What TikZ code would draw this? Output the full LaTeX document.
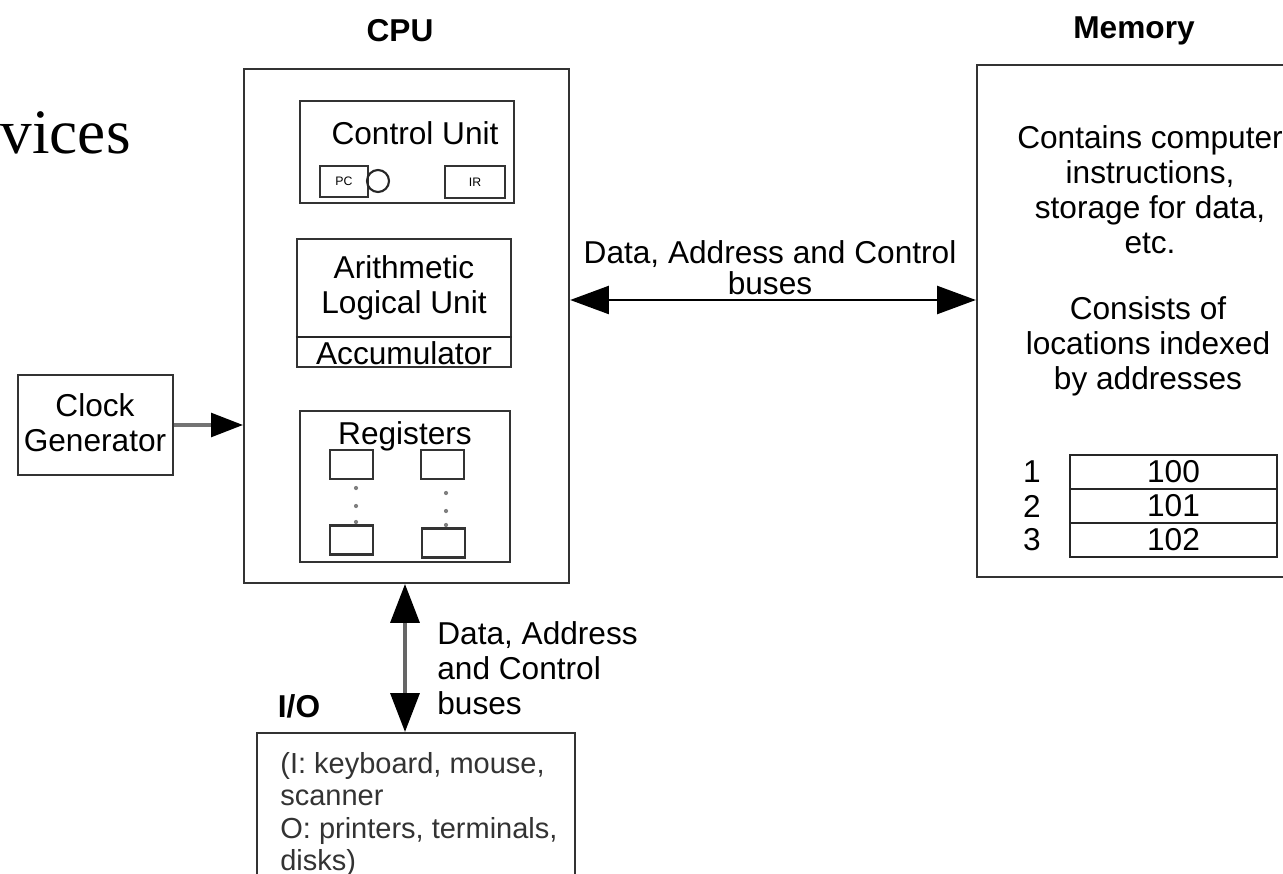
\documentclass[tikz,border=0pt]{standalone}
\usepackage{fontspec}
\setmainfont{Liberation Sans}
\newfontfamily\serifbig{Liberation Serif}
\usetikzlibrary{arrows.meta}
\tikzset{
    unit-box/.style = {draw=black!80, line width=1.4pt, rectangle, inner sep=0pt},
    unit-text/.style = {font=\fontsize{18}{20}\selectfont, align=center, inner sep=0pt},
    title-text/.style = {font=\fontsize{18}{20}\selectfont\bfseries, inner sep=0pt},
    tiny-box/.style = {draw=black!80, line width=1.2pt, rectangle, inner sep=0pt, font=\fontsize{7}{8}\selectfont},
    reg-box/.style = {draw=black!80, line width=1.2pt, rectangle, inner sep=0pt, minimum width=0.86cm, minimum height=0.58cm},
    row-box/.style = {draw=black!85, line width=1.2pt, rectangle, inner sep=0pt, minimum width=4.14cm, minimum height=0.68cm, font=\fontsize{18}{20}\selectfont},
    bus-arrow/.style = {{Triangle[length=22pt,width=16pt]}-{Triangle[length=22pt,width=16pt]}, line width=1pt},
    io-arrow/.style = {{Triangle[length=22pt,width=17pt,color=black,line width=0pt]}-{Triangle[length=22pt,width=17pt,color=black,line width=0pt]}, black!60, line width=2pt},
    clock-arrow/.style = {-{Triangle[length=18pt,width=14pt,color=black,line width=0pt]}, black!55, line width=2.2pt},
}

\begin{document}
\begin{tikzpicture}[x=0.02cm, y=-0.02cm]
\clip (0,0) rectangle (1283,874);
\useasboundingbox (0,0) rectangle (1283,874);
\fill[white] (0,0) rectangle (1283,874);

% titles
\node[title-text] (cputitle) at (400,31) {CPU};
\node[title-text] (memtitle) at (1134,31) {Memory};
\node[inner sep=0pt, anchor=east, font=\fontsize{36}{40}\serifbig] (devices) at (131,133) {vices};

% cpu and its parts
\node[unit-box, minimum width=6.5cm, minimum height=10.28cm] (cpu) at (406.5,326) {};
\node[unit-box, minimum width=4.28cm, minimum height=2.04cm] (cu) at (407,152) {};
\node[unit-text] (cutext) at (415,133) {Control Unit};
\node[tiny-box, minimum width=0.96cm, minimum height=0.62cm] (pc) at (344,181.5) {PC};
\draw[black!85, line width=1.2pt] (378,181) circle (0.22cm);
\node[tiny-box, minimum width=1.2cm, minimum height=0.64cm] (ir) at (475,182) {IR};

\node[unit-box, minimum width=4.28cm, minimum height=2.56cm] (alu) at (404,303) {};
\draw[black!85, line width=1.4pt] (alu.west |- 0,337) -- (alu.east |- 0,337);
\node[unit-text] (alutext) at (404,288) {Arithmetic\\Logical Unit};
\node[unit-text] (acc) at (404,353) {Accumulator};

\node[unit-box, minimum width=4.2cm, minimum height=3.02cm] (regs) at (405,486.5) {};
\node[unit-text] (regtext) at (405,436) {Registers};
\node[reg-box] (r1) at (351.5,464.5) {};
\node[reg-box] (r2) at (442.5,464.5) {};
\node[reg-box] (r3) at (351.5,540) {};
\node[reg-box] (r4) at (443.5,543) {};
\foreach \y in {488,506,522} \fill[black!50] (356,\y) circle (1.2pt);
\foreach \y in {493,511,525} \fill[black!50] (446,\y) circle (1.2pt);

% clock
\node[unit-box, minimum width=3.1cm, minimum height=2cm] (clock) at (95.5,425) {};
\node[unit-text] (clocktext) at (95,423) {Clock\\Generator};
\draw[clock-arrow] (clock.east) -- (clock.east -| cpu.west);

% memory
\node[unit-box, minimum width=7.06cm, minimum height=10.24cm] (mem) at (1153.5,321) {};
\node[unit-text] (memtext1) at (1150,189.5) {Contains computer\\instructions,\\storage for data,\\etc.};
\node[unit-text] (memtext2) at (1148,346) {Consists of\\locations indexed\\by addresses};
\node[row-box] (row1) at (1173.5,472) {100};
\node[row-box] (row2) at (1173.5,506) {101};
\node[row-box] (row3) at (1173.5,540) {102};
\foreach \n/\r in {1/row1,2/row2,3/row3}
    \node[unit-text] (addr\n) at (1032,0 |- \r) {\n};

% buses
\coordinate (membus) at (0,300);
\draw[bus-arrow] (cpu.east |- membus) -- (mem.west |- membus);
\node[unit-text, font=\fontsize{18}{17.5}\selectfont] (membuslabel) at (770,267.5) {Data, Address and Control\\buses};

\node[unit-box, minimum width=6.36cm, minimum height=3.34cm] (io) at (416,816.5) {};
\node[title-text] (iotitle) at (299,706) {I/O};
\coordinate (iobus) at (405,0);
\draw[io-arrow] (cpu.south -| iobus) -- (io.north -| iobus);
\node[unit-text, align=left, anchor=west] (iobuslabel) at (437,668) {Data, Address\\and Control\\buses};
\node[inner sep=0pt, align=left, anchor=north west, text=black!80, font=\fontsize{16.5}{18.5}\selectfont] (iotext) at (280,752) {(I: keyboard, mouse,\\scanner\\O: printers, terminals,\\disks)};
\end{tikzpicture}
\end{document}
